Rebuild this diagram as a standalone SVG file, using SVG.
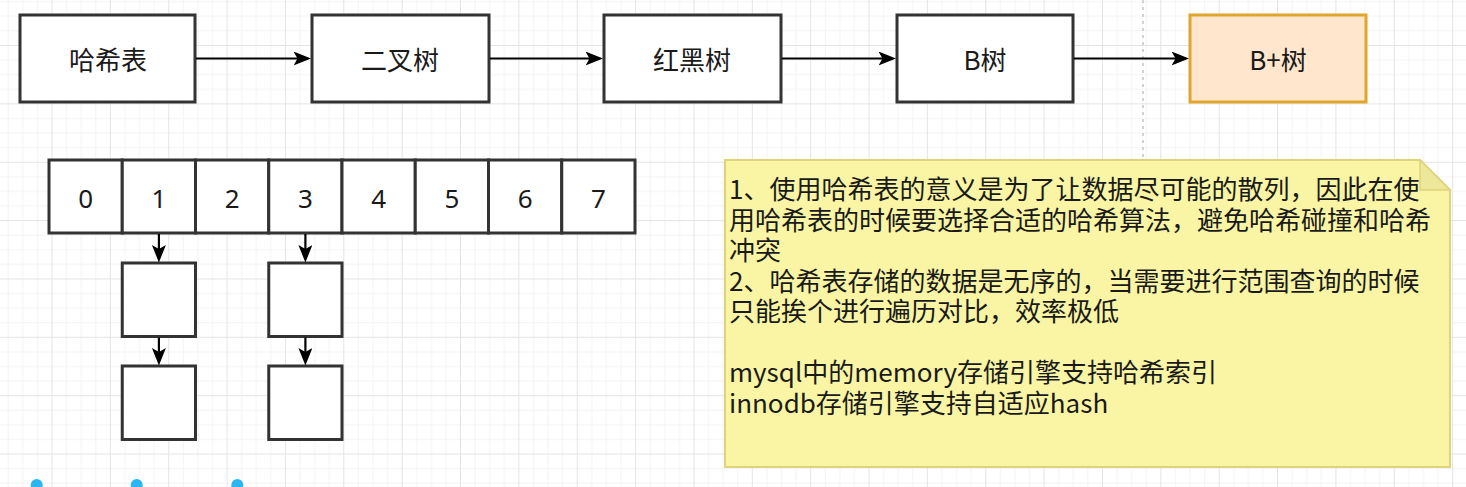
<svg xmlns="http://www.w3.org/2000/svg" width="1466" height="487" viewBox="0 0 1466 487">
  <defs>
    <pattern id="grid" patternUnits="userSpaceOnUse" x="51.5" y="45" width="58.36" height="58.36">
      <path d="M0 15.09H58.36M0 29.68H58.36M0 44.27H58.36M15.09 0V58.36M29.68 0V58.36M44.27 0V58.36" stroke="#f3f3f3" stroke-width="1" fill="none"/>
      <path d="M0 0.5H58.36M0.5 0V58.36" stroke="#e4e4e4" stroke-width="1" fill="none"/>
    </pattern>
    <marker id="arrow" markerUnits="userSpaceOnUse" markerWidth="19" markerHeight="15" refX="13" refY="7" orient="auto">
      <path d="M0 0L17.5 7L0 14L4 7Z" fill="#000"/>
    </marker>
    <style>
      .box { fill: #ffffff; stroke: #333333; stroke-width: 3; }
      .hl { fill: #ffe6cc; stroke: #e0a52c; stroke-width: 3; }
      .lbl { font-family: "Noto Sans CJK SC", "Noto Sans", sans-serif; font-size: 26px; fill: #1a1a1a; text-anchor: middle; }
      .num { font-family: "Noto Sans", "Noto Sans CJK SC", sans-serif; font-size: 26px; fill: #1a1a1a; text-anchor: middle; }
      .note { font-family: "Noto Sans CJK SC", sans-serif; font-size: 26px; fill: #1a1a1a; }
      .conn { stroke: #000; stroke-width: 2.2; fill: none; marker-end: url(#arrow); }
    </style>
  </defs>
  <rect width="1466" height="487" fill="#ffffff"/>
  <rect width="1466" height="487" fill="url(#grid)"/>
  <line x1="1143" y1="0" x2="1143" y2="160" stroke="#c4c4c4" stroke-width="1.5" stroke-dasharray="3 4"/>

  <g id="n-hash"><rect class="box" x="20" y="15" width="175" height="87"/><text class="lbl" x="108" y="70">哈希表</text></g>
  <g id="n-bst"><rect class="box" x="312" y="15" width="177" height="87"/><text class="lbl" x="400" y="70">二叉树</text></g>
  <g id="n-rb"><rect class="box" x="604" y="15" width="177" height="87"/><text class="lbl" x="692" y="70">红黑树</text></g>
  <g id="n-b"><rect class="box" x="897" y="15" width="176" height="87"/><text class="lbl" x="985" y="70">B树</text></g>
  <g id="n-bplus"><rect class="hl" x="1190" y="15" width="176" height="87"/><text class="lbl" x="1278" y="70">B+树</text></g>

  <g id="n-array">
    <rect class="box" x="49" y="160" width="73.25" height="73"/>
    <rect class="box" x="122.25" y="160" width="73.25" height="73"/>
    <rect class="box" x="195.5" y="160" width="73.25" height="73"/>
    <rect class="box" x="268.75" y="160" width="73.25" height="73"/>
    <rect class="box" x="342" y="160" width="73.25" height="73"/>
    <rect class="box" x="415.25" y="160" width="73.25" height="73"/>
    <rect class="box" x="488.5" y="160" width="73.25" height="73"/>
    <rect class="box" x="561.75" y="160" width="73.25" height="73"/>
    <text class="num" x="85.6" y="208">0</text>
    <text class="num" x="158.9" y="208">1</text>
    <text class="num" x="232.1" y="208">2</text>
    <text class="num" x="305.4" y="208">3</text>
    <text class="num" x="378.6" y="208">4</text>
    <text class="num" x="451.9" y="208">5</text>
    <text class="num" x="525.1" y="208">6</text>
    <text class="num" x="598.4" y="208">7</text>
  </g>

  <g id="n-c1a"><rect class="box" x="122.25" y="263" width="73.25" height="73.5"/></g>
  <g id="n-c1b"><rect class="box" x="122.25" y="366" width="73.25" height="73.5"/></g>
  <g id="n-c3a"><rect class="box" x="268.75" y="263" width="73.25" height="73.5"/></g>
  <g id="n-c3b"><rect class="box" x="268.75" y="366" width="73.25" height="73.5"/></g>

  <g id="connectors">
    <line class="conn" x1="196" y1="58.5" x2="306.5" y2="58.5"/>
    <line class="conn" x1="490" y1="58.5" x2="598.5" y2="58.5"/>
    <line class="conn" x1="782" y1="58.5" x2="891.5" y2="58.5"/>
    <line class="conn" x1="1074" y1="58.5" x2="1184.5" y2="58.5"/>
    <line class="conn" x1="158.9" y1="234" x2="158.9" y2="258"/>
    <line class="conn" x1="158.9" y1="337.5" x2="158.9" y2="361"/>
    <line class="conn" x1="305.4" y1="234" x2="305.4" y2="258"/>
    <line class="conn" x1="305.4" y1="337.5" x2="305.4" y2="361"/>
  </g>

  <g id="n-note">
    <path d="M725 160H1420L1450 190V467H725Z" fill="#f9f5a4" stroke="#ddd47a" stroke-width="2"/>
    <path d="M1420 160V190H1450Z" fill="#ece79a" stroke="#ddd47a" stroke-width="1.5"/>
    <text class="note" x="729" y="199">
      <tspan x="729" y="199">1、使用哈希表的意义是为了让数据尽可能的散列，因此在使</tspan>
      <tspan x="729" y="229.5">用哈希表的时候要选择合适的哈希算法，避免哈希碰撞和哈希</tspan>
      <tspan x="729" y="260">冲突</tspan>
      <tspan x="729" y="290.5">2、哈希表存储的数据是无序的，当需要进行范围查询的时候</tspan>
      <tspan x="729" y="321">只能挨个进行遍历对比，效率极低</tspan>
      <tspan x="729" y="382">mysql中的memory存储引擎支持哈希索引</tspan>
      <tspan x="729" y="412.5">innodb存储引擎支持自适应hash</tspan>
    </text>
  </g>

  <g id="handles" fill="#29b6f2">
    <circle cx="36.7" cy="485" r="6"/>
    <circle cx="136.7" cy="485" r="6"/>
    <circle cx="237.3" cy="485" r="6"/>
  </g>
</svg>
